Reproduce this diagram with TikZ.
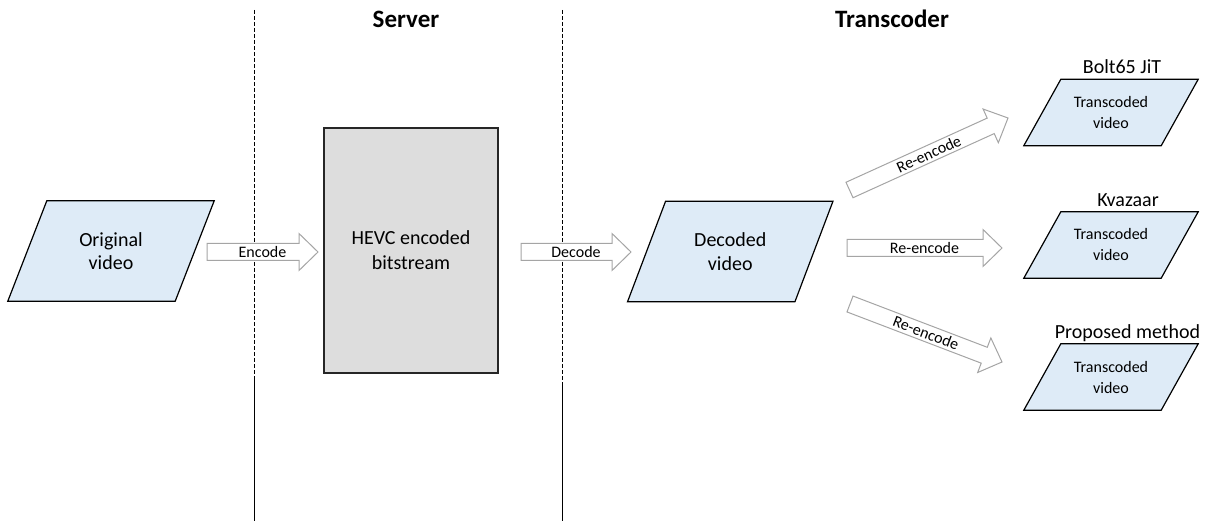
\documentclass[tikz,border=0pt]{standalone}
\usepackage{fontspec}
\setmainfont{Carlito}
\usetikzlibrary{calc,backgrounds}
\definecolor{parablue}{RGB}{222,235,247}
\definecolor{boxgray}{RGB}{221,221,221}
\definecolor{arrowgray}{RGB}{165,165,165}
\tikzset{
  para/.style={inner sep=0pt, align=center, font=\fontsize{20}{23.5}\selectfont},
  bigpara/.style={para, minimum width=167pt, minimum height=100pt},
  smallpara/.style={para, minimum width=137pt, minimum height=66pt, font=\fontsize{16}{21}\selectfont},
  parashape/.style={draw=black, line width=1.2pt, fill=parablue, line join=miter},
  hevcbox/.style={draw=black!85, line width=1.4pt, fill=boxgray, minimum width=174pt, minimum height=245pt, inner sep=0pt, align=center, font=\fontsize{20}{25}\selectfont},
  arrowshape/.style={draw=arrowgray, line width=1pt, fill=white, line join=miter},
  arrowtext/.style={inner sep=0pt, font=\fontsize{16}{19}\selectfont},
  title/.style={anchor=base, font=\fontsize{25}{30}\selectfont\bfseries},
  label/.style={anchor=base, font=\fontsize{20}{24}\selectfont},
  divider/.style={line width=1pt, dash pattern=on 4pt off 2pt},
  dividersolid/.style={line width=1pt}
}
\newcommand\drawpara[2]{%
  \draw[parashape] ($(#1.north west)+(#2,0)$) -- ($(#1.north east)+(#2,0)$) -- ($(#1.south east)-(#2,0)$) -- ($(#1.south west)-(#2,0)$) -- cycle;}
\newcommand\blockarrow[4]{%
  \coordinate (#4) at ($(#2)!19pt!(#1)$);
  \draw[arrowshape] ($(#1)!8.5pt!90:(#2)$) -- ($(#4)!8.5pt!90:(#2)$) -- ($(#4)!18.5pt!90:(#2)$) -- (#2) -- ($(#4)!18.5pt!-90:(#2)$) -- ($(#4)!8.5pt!-90:(#2)$) -- ($(#1)!8.5pt!-90:(#2)$) -- cycle;
  \path (#1) -- node[sloped, arrowtext] {#3} (#2);}
\begin{document}
\begin{tikzpicture}[x=1pt, y=-1pt]
\useasboundingbox (0,0) rectangle (1210,521);

% dividers
\coordinate (d1top) at (254,10);
\coordinate (d1mid) at (254,378);
\coordinate (d1bot) at (254,521);
\coordinate (d2top) at (562,10);
\coordinate (d2mid) at (562,382);
\coordinate (d2bot) at (562,521);
\draw[divider] (d1top) -- (d1mid);
\draw[dividersolid] (d1mid) -- (d1bot);
\draw[divider] (d2top) -- (d2mid);
\draw[dividersolid] (d2mid) -- (d2bot);

% titles
\node[title] (server) at (406,28) {Server};
\node[title] (transcoder) at (892,28) {Transcoder};

% main nodes
\node[bigpara] (orig) at (111,251) {Original\\video};
\node[hevcbox] (hevc) at (411,250.5) {HEVC encoded\\bitstream};
\node[bigpara] (dec) at (730.25,251.5) {Decoded\\video};
\node[smallpara] (t1) at (1111,112.5) {Transcoded\\video};
\node[smallpara] (t2) at (1111,245) {Transcoded\\video};
\node[smallpara] (t3) at (1111,377) {Transcoded\\video};

\begin{scope}[on background layer]
  \drawpara{orig}{19.5}
  \drawpara{dec}{19}
  \drawpara{t1}{18.5}
  \drawpara{t2}{18.5}
  \drawpara{t3}{18.5}
\end{scope}

% labels
\node[label] (l1) at (1122,74) {Bolt65 JiT};
\node[label] (l2) at (1128,207) {Kvazaar};
\node[label] (l3) at (1127.5,338) {Proposed method};

% arrows
\coordinate (enct) at (207,252);
\coordinate (ench) at (318,252);
\coordinate (dect) at (521,252);
\coordinate (dech) at (631,252);
\coordinate (r1t) at (849.5,190);
\coordinate (r1h) at (1008,118);
\coordinate (r2t) at (847,248);
\coordinate (r2h) at (1002,248);
\coordinate (r3t) at (850,304);
\coordinate (r3h) at (1002,362);
\blockarrow{enct}{ench}{Encode}{encb}
\blockarrow{dect}{dech}{Decode}{decb}
\blockarrow{r1t}{r1h}{Re-encode}{r1b}
\blockarrow{r2t}{r2h}{Re-encode}{r2b}
\blockarrow{r3t}{r3h}{Re-encode}{r3b}
\end{tikzpicture}
\end{document}
